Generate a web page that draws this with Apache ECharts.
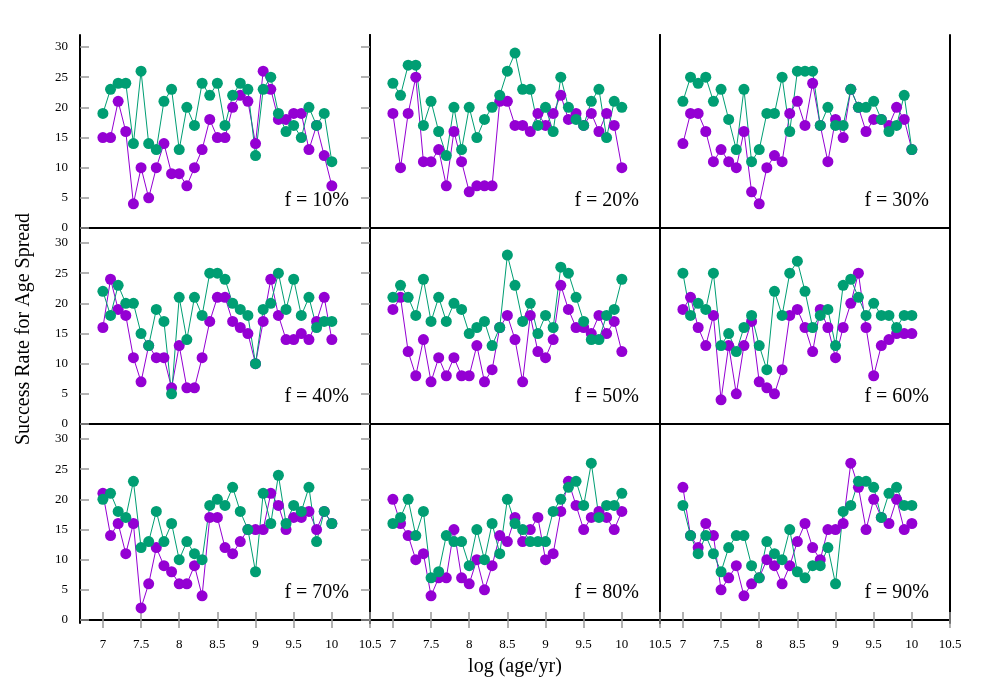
<!DOCTYPE html>
<html>
<head>
<meta charset="utf-8">
<script src="https://cdn.jsdelivr.net/npm/echarts@6/dist/echarts.min.js"></script>
<style>
  html, body { margin: 0; background: #fff; }
  #chart { width: 1000px; height: 700px; }
</style>
</head>
<body>
<div id="chart"></div>
<script>
// x positions (log age/yr)
const logAge = [7.0, 7.1, 7.2, 7.3, 7.4, 7.5, 7.6, 7.7, 7.8, 7.9, 8.0, 8.1, 8.2, 8.3, 8.4, 8.5,
  8.6, 8.7, 8.8, 8.9, 9.0, 9.1, 9.2, 9.3, 9.4, 9.5, 9.6, 9.7, 9.8, 9.9, 10.0];
const xTicks = [7, 7.5, 8, 8.5, 9, 9.5, 10, 10.5];
const yTicks = [0, 5, 10, 15, 20, 25, 30];
const fLabels = ['f = 10%', 'f = 20%', 'f = 30%', 'f = 40%', 'f = 50%', 'f = 60%', 'f = 70%', 'f = 80%', 'f = 90%'];

// purple / green series per panel
const purple10 = [15,15,21,16,4,10,5,10,14,9,9,7,10,13,18,15,15,20,22,21,14,26,23,18,18,19,19,13,17,12,7];
const green10  = [19,23,24,24,14,26,14,13,21,23,13,20,17,24,22,24,17,22,24,23,12,23,25,19,16,17,15,20,17,19,11];
const purple20 = [19,10,19,25,11,11,13,7,16,11,6,7,7,7,21,21,17,17,16,19,17,19,22,18,19,17,19,16,19,17,10];
const green20  = [24,22,27,27,17,21,16,12,20,13,20,15,18,20,22,26,29,23,23,17,20,16,25,20,18,17,21,23,15,21,20];
const purple30 = [14,19,19,16,11,13,11,10,16,6,4,10,12,11,19,21,17,24,17,11,18,15,23,20,16,18,18,17,20,18,13];
const green30  = [21,25,24,25,21,23,18,13,23,11,13,19,19,25,16,26,26,26,17,20,17,17,23,20,20,21,18,16,17,22,13];
const purple40 = [16,24,19,18,11,7,13,11,11,6,13,6,6,11,17,21,21,17,16,15,10,17,24,18,14,14,15,14,17,21,14];
const green40  = [22,18,23,20,20,15,13,19,17,5,21,14,21,18,25,25,24,20,19,18,10,19,20,25,19,24,18,21,16,17,17];
const purple50 = [19,21,12,8,14,7,11,8,11,8,8,13,7,9,16,18,14,7,18,12,11,14,23,19,16,16,15,18,15,17,12];
const green50  = [21,23,21,18,24,17,21,17,20,19,15,16,17,13,16,28,23,17,20,15,18,16,26,25,21,17,14,14,18,19,24];
const purple60 = [19,21,16,13,18,4,13,5,13,17,7,6,5,9,18,19,16,12,19,16,11,16,20,25,16,8,13,14,15,15,15];
const green60  = [25,18,20,19,25,13,15,12,16,18,13,9,22,18,25,27,22,16,18,19,13,23,24,21,18,20,18,18,16,18,18];
const purple70 = [21,14,16,11,16,2,6,12,9,8,6,6,9,4,17,17,12,11,13,15,15,15,21,19,15,17,17,18,15,18,16];
const green70  = [20,21,18,17,23,12,13,18,13,16,10,13,11,10,19,20,19,22,18,15,8,21,16,24,16,19,18,22,13,18,16];
const purple80 = [20,16,14,10,11,4,7,7,15,7,6,10,5,9,14,13,17,13,15,17,10,11,18,23,19,15,17,18,17,15,18];
const green80  = [16,17,20,14,18,7,8,14,13,13,9,15,10,16,11,20,16,15,13,13,13,18,20,22,23,19,26,17,19,19,21];
const purple90 = [22,14,12,16,14,5,7,9,4,6,7,10,9,6,9,13,16,12,10,15,15,16,26,22,15,20,17,16,20,15,16];
const green90  = [19,14,11,14,11,8,12,14,14,9,7,13,11,10,15,8,7,9,9,12,6,18,19,23,23,22,17,21,22,19,19];

const purples = [purple10, purple20, purple30, purple40, purple50, purple60, purple70, purple80, purple90];
const greens  = [green10, green20, green30, green40, green50, green60, green70, green80, green90];

const PURPLE = '#9400d3', GREEN = '#009e73';
const FONT = '"Liberation Serif", "DejaVu Serif", serif';

const left0 = 80, top0 = 35, pw = 290, ph = 196;

let grid = [], xAxis = [], yAxis = [], series = [], graphic = [];

const frameLine = { show: true, lineStyle: { color: '#000', width: 2 } };
const tickStyle = (show, vals, len) => ({
  show: show, customValues: vals, inside: true, length: len,
  lineStyle: { color: '#999', width: 1.5 }
});

for (let i = 0; i < 9; i++) {
  const row = Math.floor(i / 3), col = i % 3;
  const gl = left0 + col * pw, gt = top0 + row * ph;
  grid.push({ left: gl, top: gt, width: pw, height: ph });

  // only the bottom row carries x ticks, only the left column y ticks
  const xt = row === 2, yt = col === 0;

  xAxis.push({
    type: 'value', gridIndex: i, position: 'bottom', min: 6.7, max: 10.5,
    axisLine: frameLine, splitLine: { show: false },
    axisTick: tickStyle(xt, xTicks, 8),
    axisLabel: {
      show: row === 2, customValues: xTicks, margin: 15,
      fontFamily: FONT, fontSize: 13, color: '#000'
    }
  });
  xAxis.push({
    type: 'value', gridIndex: i, position: 'top', min: 6.7, max: 10.5,
    axisLine: frameLine, splitLine: { show: false },
    axisTick: tickStyle(xt, xTicks, 8),
    axisLabel: { show: false }
  });
  yAxis.push({
    type: 'value', gridIndex: i, position: 'left', min: -0.5, max: 32,
    axisLine: frameLine, splitLine: { show: false },
    axisTick: tickStyle(yt, yTicks, 9),
    axisLabel: {
      show: col === 0, customValues: yTicks, margin: 12,
      fontFamily: FONT, fontSize: 13, color: '#000'
    }
  });
  yAxis.push({
    type: 'value', gridIndex: i, position: 'right', min: -0.5, max: 32,
    axisLine: frameLine, splitLine: { show: false },
    axisTick: tickStyle(yt, yTicks, 9),
    axisLabel: { show: false }
  });

  const mk = (vals, color) => ({
    type: 'line', xAxisIndex: 2 * i, yAxisIndex: 2 * i,
    data: logAge.map((x, k) => [x, vals[k]]),
    symbol: 'circle', symbolSize: 11,
    lineStyle: { color: color, width: 1 },
    itemStyle: { color: color },
    animation: false, silent: true
  });
  series.push(mk(purples[i], PURPLE));
  series.push(mk(greens[i], GREEN));

  graphic.push({
    type: 'text', right: 1000 - (gl + pw - 21), top: gt + 156,
    style: { text: fLabels[i], font: '20px ' + FONT, fill: '#000' }
  });
}

graphic.push({
  type: 'text', x: 515, y: 667,
  style: { text: 'log (age/yr)', font: '20px ' + FONT, fill: '#000', align: 'center', verticalAlign: 'middle' }
});
graphic.push({
  type: 'text', x: 24, y: 329, rotation: Math.PI / 2,
  style: { text: 'Success Rate for Age Spread', font: '20px ' + FONT, fill: '#000', align: 'center', verticalAlign: 'middle' }
});

const chart = echarts.init(document.getElementById('chart'), null, { renderer: 'canvas' });
chart.setOption({
  backgroundColor: '#fff',
  animation: false,
  grid: grid, xAxis: xAxis, yAxis: yAxis, series: series, graphic: graphic
});
</script>
</body>
</html>
